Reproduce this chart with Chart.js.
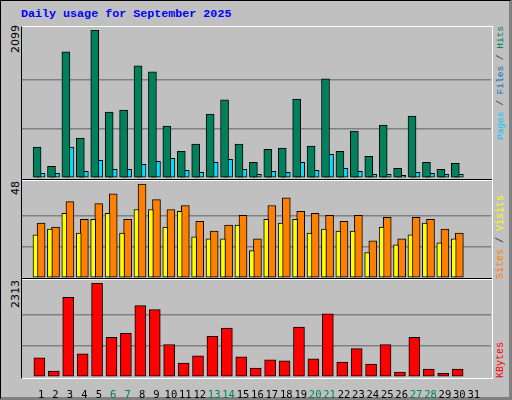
<!DOCTYPE html>
<html><head><meta charset="utf-8">
<script src="https://cdn.jsdelivr.net/npm/chart.js@4"></script>
<style>
body{margin:0;background:#fff}
#wrap{position:absolute;left:0;top:0;width:508px;height:396px;background:#C0C0C0;border:1px solid #000;border-right:3px solid #808080;border-bottom:3px solid #808080}
.t{position:absolute;white-space:nowrap}
.rot{transform-origin:left top;transform:rotate(-90deg)}
canvas{position:absolute}
#title{left:20px;top:6px;font:bold 11.7px "Liberation Mono",monospace;color:#0000FF}
#frame{position:absolute;left:20px;top:25px;width:470px;height:351px;border-top:1px solid #fff;border-right:1px solid #fff;border-bottom:1px solid #fff;border-left:1px solid #000}
.sep{position:absolute;left:21px;width:470px;height:1px}
.lab{font:9.5px "Liberation Mono",monospace}
.num{font:11px "DejaVu Sans",sans-serif;color:#000}
</style></head>
<body>
<div id="wrap">
<div id="title" class="t">Daily usage for September 2025</div>
<div id="frame"></div>
<div class="sep" style="top:178px;background:#000"></div>
<div class="sep" style="top:179px;background:#fff"></div>
<div class="sep" style="top:277px;background:#000"></div>
<div class="sep" style="top:278px;background:#fff"></div>
<canvas id="c1" style="left:21px;top:26px"></canvas>
<canvas id="c2" style="left:21px;top:180px"></canvas>
<canvas id="c3" style="left:21px;top:279px"></canvas>
<div class="t rot num" style="left:8px;top:52px">2099</div>
<div class="t rot num" style="left:8px;top:194px">48</div>
<div class="t rot num" style="left:8px;top:307px">2313</div>
<div class="t rot lab" style="left:494px;top:139px"><span style="color:#00C8FF">Pages</span><span style="color:#404040"> / </span><span style="color:#0070C0">Files</span><span style="color:#404040"> / </span><span style="color:#00805C">Hits</span></div>
<div class="t rot lab" style="left:494px;top:278px;font-size:10px"><span style="color:#FF8000">Sites</span><span style="color:#404040"> / </span><span style="color:#FFFF00">Visits</span></div>
<div class="t rot lab" style="left:494px;top:377px;font-size:10px;color:#FF0000">KBytes</div>
</div>
<script>
const days = Array.from({length:31},(_,i)=>i+1);
const weekend = [6,7,13,14,20,21,27,28];
const hits  = [437,166,1790,565,2099,936,964,1591,1505,736,380,480,907,1107,480,223,408,423,1121,451,1406,380,665,309,750,138,879,223,123,209,0];
const files = [66,66,437,95,252,123,123,195,237,280,109,81,223,266,123,52,95,81,223,109,337,138,95,52,52,38,81,66,52,52,0];
const pages = [55,60,60,60,60,65,60,60,60,55,55,55,55,55,60,55,60,60,60,55,60,55,55,55,55,40,60,60,55,55,0];
const sites = [22,25,33,23,30,33,23,35,35,26,34,21,20,20,27,14,30,28,30,23,25,24,24,13,26,17,22,28,18,20,0];
const visits= [28,26,39,30,38,43,30,48,40,35,37,29,24,27,32,20,37,41,34,33,32,29,32,19,31,20,31,30,25,23,0];
const kbytes= [471,143,1960,572,2313,976,1077,1758,1657,799,345,521,1001,1203,496,219,420,395,1228,446,1556,370,698,320,799,118,976,193,93,193,0];

Chart.defaults.animation=false;
Chart.defaults.devicePixelRatio=1;

function ds(vals,off,color,thick){
  return {data:days.map((d,i)=>({x:d+off,y:vals[i]})),backgroundColor:color,borderColor:'#000',
    borderWidth:1,borderSkipped:false,barThickness:thick,grouped:false};
}
function make(id,w,h,sets,max,showX){
  const el=document.getElementById(id); el.width=w; el.height=h;
  return new Chart(el,{type:'bar',data:{datasets:sets},options:{
    responsive:false,layout:{padding:{top:3,left:0,right:0,bottom:0}},
    plugins:{legend:{display:false},tooltip:{enabled:false}},
    scales:{
      x:{type:'linear',min:0.2,max:31.67,display:showX,border:{display:false},grid:{display:false},
         afterBuildTicks:s=>{s.ticks=days.map(v=>({value:v}));},
         afterFit:s=>{s.height=showX?22:0;},
         ticks:{autoSkip:false,maxRotation:0,padding:4,font:{family:'DejaVu Sans Mono',size:10.5},
           color:c=>weekend.includes(c.tick.value)?'#00805C':'#000'}},
      y:{display:true,min:0,max:max,border:{display:false},
         afterFit:s=>{s.width=0;},
         afterBuildTicks:s=>{s.ticks=[0,max/3,2*max/3,max].map(v=>({value:v}));},
         ticks:{display:false},
         grid:{drawTicks:false,lineWidth:1.5,color:c=>(c.index===1||c.index===2)?'#808080':'rgba(0,0,0,0)'}}
    }}});
}
make('c1',469,151,[ds(hits,-0.28,'#00805C',8),ds(pages,-0.28,'#0040FF',3),ds(files,0,'#00E0FF',8)],2099,false);
make('c2',469,97,[ds(sites,-0.39,'#FFFF00',5),ds(visits,0,'#FF8000',8)],48,false);
make('c3',469,119,[ds(kbytes,-0.12,'#FF0000',11)],2313,true);
</script>
</body></html>
